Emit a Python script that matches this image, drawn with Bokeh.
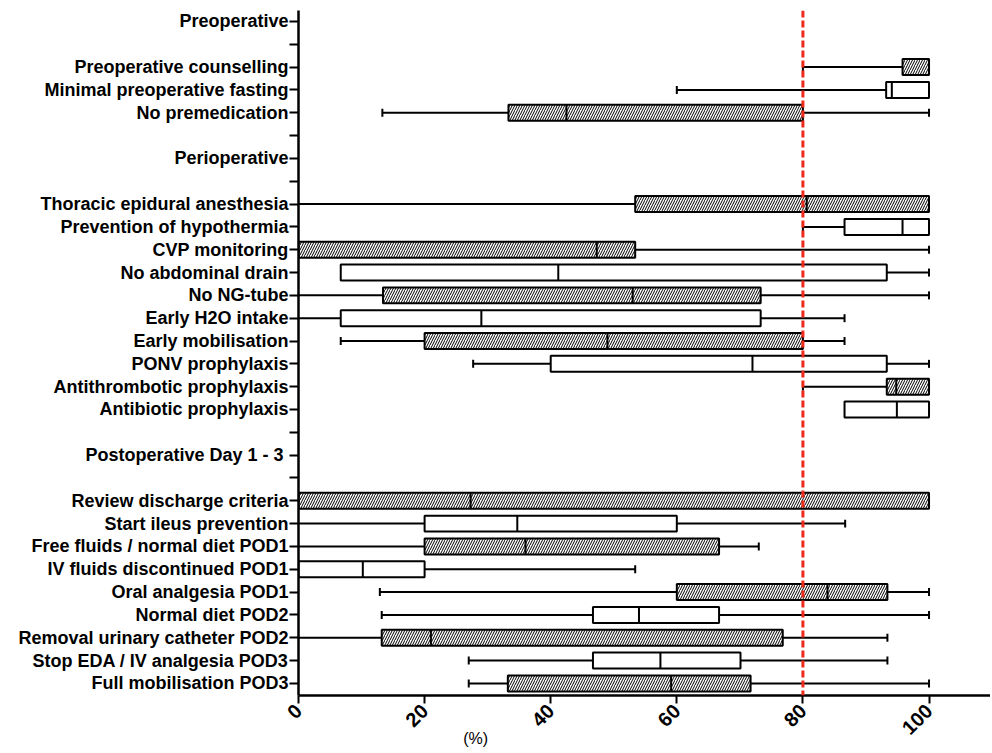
import math
from bokeh.plotting import figure
from bokeh.models import Range1d, FixedTicker, ColumnDataSource, Span
from bokeh.embed import file_html
from bokeh.resources import INLINE

# Row labels, top to bottom ("" = empty slot with tick only)
row_labels = [
    "Preoperative", "",
    "Preoperative counselling", "Minimal preoperative fasting", "No premedication", "",
    "Perioperative", "",
    "Thoracic epidural anesthesia", "Prevention of hypothermia", "CVP monitoring",
    "No abdominal drain", "No NG-tube", "Early H2O intake", "Early mobilisation",
    "PONV prophylaxis", "Antithrombotic prophylaxis", "Antibiotic prophylaxis", "",
    "Postoperative Day 1 - 3 ", "",
    "Review discharge criteria", "Start ileus prevention", "Free fluids / normal diet POD1",
    "IV fluids discontinued POD1", "Oral analgesia POD1", "Normal diet POD2",
    "Removal urinary catheter POD2", "Stop EDA / IV analgesia POD3", "Full mobilisation POD3",
]

items = [
    "Preoperative counselling", "Minimal preoperative fasting", "No premedication",
    "Thoracic epidural anesthesia", "Prevention of hypothermia", "CVP monitoring",
    "No abdominal drain", "No NG-tube", "Early H2O intake", "Early mobilisation",
    "PONV prophylaxis", "Antithrombotic prophylaxis", "Antibiotic prophylaxis",
    "Review discharge criteria", "Start ileus prevention", "Free fluids / normal diet POD1",
    "IV fluids discontinued POD1", "Oral analgesia POD1", "Normal diet POD2",
    "Removal urinary catheter POD2", "Stop EDA / IV analgesia POD3", "Full mobilisation POD3",
]
mins    = [80, 60, 13.3, 0, 80, 0, 6.7, 0, 0, 6.7, 27.7, 80, 86.6, 0, 0, 0, 0, 12.9, 13.2, 0, 27.0, 27.0]
q1s     = [95.8, 93.2, 33.3, 53.4, 86.6, 0, 6.7, 13.4, 6.7, 20.0, 40.0, 93.3, 86.6, 0, 20.0, 20.0, 0, 60.0, 46.7, 13.2, 46.7, 33.2]
medians = [100, 94.1, 42.5, 80.6, 95.8, 47.3, 41.2, 53.0, 29.0, 49.0, 72.0, 94.8, 94.9, 27.3, 34.7, 36.0, 10.2, 83.9, 54.0, 21.0, 57.4, 59.1]
q3s     = [100, 100, 80.0, 100, 100, 53.4, 93.3, 73.3, 73.3, 80.0, 93.3, 100, 100, 100, 60.0, 66.7, 20.0, 93.4, 66.7, 76.8, 70.1, 71.7]
maxs    = [100, 100, 100, 100, 100, 100, 100, 100, 86.6, 86.6, 100, 100, 100, 100, 86.7, 73.0, 53.4, 100, 100, 93.4, 93.4, 100]
hatched = [True, False, True, True, False, True, False, True, False, True, False, True, False,
           True, False, True, False, True, False, True, False, True]
x_ticks = [0, 20, 40, 60, 80, 100]
x_title = "(%)"
target = 80

ys = [row_labels.index(it) for it in items]
BOX_H = 0.70
CAP_H = 0.35

p = figure(width=990, height=752, output_backend="svg", toolbar_location=None,
           x_range=Range1d(0, 109.75), y_range=Range1d(29.53, -0.48),
           min_border_left=298, min_border_right=0, min_border_top=10, min_border_bottom=57)
p.outline_line_color = None
p.xgrid.visible = False
p.ygrid.visible = False

# whiskers
wl = ColumnDataSource(dict(y=ys, x0=mins, x1=q1s))
wr = ColumnDataSource(dict(y=ys, x0=q3s, x1=maxs))
p.segment(x0="x0", y0="y", x1="x1", y1="y", source=wl, line_color="black", line_width=2)
p.segment(x0="x0", y0="y", x1="x1", y1="y", source=wr, line_color="black", line_width=2)

# caps
cx, cy = [], []
for y, mn, a, b, mx in zip(ys, mins, q1s, q3s, maxs):
    if mn < a and mn > 0:
        cx.append(mn); cy.append(y)
    if mx > b:
        cx.append(mx); cy.append(y)
caps = ColumnDataSource(dict(x=cx, y0=[y - CAP_H / 2 for y in cy], y1=[y + CAP_H / 2 for y in cy]))
p.segment(x0="x", y0="y0", x1="x", y1="y1", source=caps, line_color="black", line_width=2)

# boxes
boxes = ColumnDataSource(dict(y=ys, left=q1s, right=q3s,
                              hatch=["/" if h else " " for h in hatched]))
p.hbar(y="y", left="left", right="right", height=BOX_H, source=boxes,
       fill_color="white", line_color="black", line_width=2,
       hatch_pattern="hatch", hatch_color="black", hatch_scale=5, hatch_weight=1)

# medians
meds = ColumnDataSource(dict(x=medians, y0=[y - BOX_H / 2 for y in ys], y1=[y + BOX_H / 2 for y in ys]))
p.segment(x0="x", y0="y0", x1="x", y1="y1", source=meds, line_color="black", line_width=2)

# 80% reference line
p.add_layout(Span(location=target, dimension="height", line_color="#ee2a1c",
                  line_width=3, line_dash="7 3"))

# y axis
ya = p.yaxis[0]
ya.ticker = FixedTicker(ticks=list(range(len(row_labels))))
ya.major_label_overrides = {i: lab for i, lab in enumerate(row_labels)}
ya.major_label_text_font = "Liberation Sans"
ya.major_label_text_font_style = "bold"
ya.major_label_text_font_size = "18px"
ya.major_label_text_color = "black"
ya.axis_line_width = 2.5
ya.axis_line_color = "black"
ya.major_tick_line_width = 2
ya.major_tick_out = 9
ya.major_tick_in = 0
ya.minor_tick_line_color = None
ya.major_label_standoff = 1

# x axis
xa = p.xaxis[0]
xa.ticker = FixedTicker(ticks=x_ticks)
xa.major_label_orientation = math.pi / 4
xa.major_label_text_font = "Liberation Sans"
xa.major_label_text_font_style = "bold"
xa.major_label_text_font_size = "20px"
xa.major_label_text_color = "black"
xa.axis_line_width = 2.5
xa.axis_line_color = "black"
xa.major_tick_line_width = 2
xa.major_tick_out = 8
xa.major_tick_in = 0
xa.minor_tick_line_color = None
xa.major_label_standoff = 4
# axis title sits left of centre in the reference: pad with trailing no-break spaces
xa.axis_label = x_title + "\u00a0" * 76
xa.axis_label_text_font = "Liberation Sans"
xa.axis_label_text_font_style = "normal"
xa.axis_label_text_font_size = "16px"
xa.axis_label_text_color = "black"
xa.axis_label_standoff = -14

open("out.html", "w").write(file_html(p, INLINE))
